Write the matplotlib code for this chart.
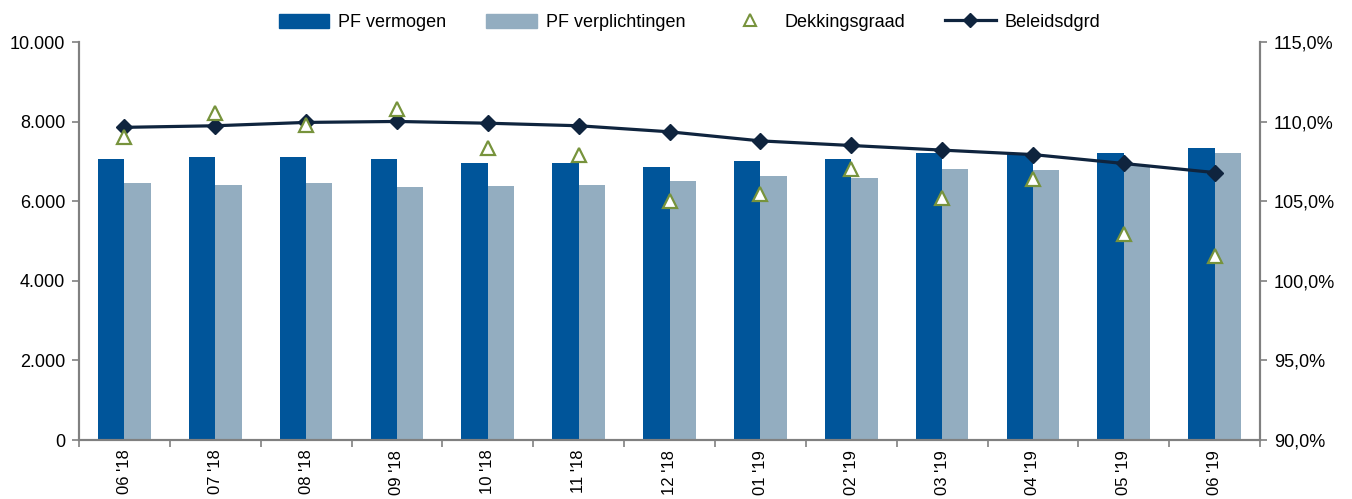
import matplotlib
matplotlib.use("Agg")
import matplotlib.pyplot as plt
import numpy as np
from matplotlib.patches import Patch
from matplotlib.lines import Line2D
from matplotlib.ticker import FuncFormatter, FixedLocator

# data
maanden = ["06 '18", "07 '18", "08 '18", "09 '18", "10 '18", "11 '18", "12 '18",
           "01 '19", "02 '19", "03 '19", "04 '19", "05 '19", "06 '19"]
pf_vermogen = [7070, 7110, 7110, 7070, 6950, 6970, 6850, 7020, 7070, 7210, 7190, 7210, 7330]
pf_verplichtingen = [6450, 6400, 6450, 6350, 6390, 6420, 6500, 6640, 6580, 6820, 6790, 6910, 7200]
dekkingsgraad = [109.05, 110.56, 109.78, 110.79, 108.37, 107.9, 105.0, 105.48, 107.03, 105.2, 106.37, 102.92, 101.56]
beleidsdgrd = [109.64, 109.74, 109.95, 110.01, 109.9, 109.74, 109.36, 108.79, 108.5, 108.21, 107.93, 107.37, 106.8]

# colours
c_verm = '#00559A'
c_verpl = '#93ADC0'
c_dekk = '#77933C'
c_bel = '#0F243E'
c_axis = '#808080'

plt.rcParams['font.family'] = ['Liberation Sans', 'DejaVu Sans']
plt.rcParams['font.size'] = 13

fig = plt.figure(figsize=(13.52, 4.99), dpi=100)
ax = fig.add_axes([0.0584, 0.1182, 0.8736, 0.7976])
ax2 = ax.twinx()

x = np.arange(len(maanden))
w = 0.29
ax.bar(x - w/2, pf_vermogen, w, color=c_verm, zorder=2)
ax.bar(x + w/2, pf_verplichtingen, w, color=c_verpl, zorder=2)

ax2.plot(x, beleidsdgrd, color=c_bel, lw=2.3, marker='D', markersize=8, zorder=3)
ax2.plot(x, dekkingsgraad, ls='none', marker='^', markersize=10, markerfacecolor='white',
         markeredgecolor=c_dekk, markeredgewidth=1.6, zorder=4)

ax.set_xlim(-0.5, len(maanden) - 0.5)
ax.set_ylim(0, 10000)
ax.set_yticks([0, 2000, 4000, 6000, 8000, 10000])
ax.yaxis.set_major_formatter(FuncFormatter(lambda v, p: f"{int(v):,}".replace(",", ".")))
ax2.set_ylim(90, 115)
ax2.set_yticks([90, 95, 100, 105, 110, 115])
ax2.yaxis.set_major_formatter(FuncFormatter(lambda v, p: f"{v:.1f}%".replace(".", ",")))

# x-as: ticks tussen de categorieen, labels in het midden
ax.set_xticks(x)
ax.set_xticklabels(maanden, rotation=90, fontsize=12)
ax.tick_params(axis='x', which='major', length=0, pad=7)
ax.xaxis.set_minor_locator(FixedLocator(np.arange(-0.5, len(maanden), 1)))
ax.tick_params(axis='x', which='minor', length=5, color=c_axis, width=1.2)
ax.tick_params(axis='y', length=5, color=c_axis, width=1.2, pad=5)
ax2.tick_params(axis='y', length=5, color=c_axis, width=1.2, pad=5)

for a in (ax, ax2):
    a.spines['top'].set_visible(False)
    for s in ('left', 'right', 'bottom'):
        a.spines[s].set_color(c_axis)
        a.spines[s].set_linewidth(1.5)

handles = [
    Patch(color=c_verm, label='PF vermogen'),
    Patch(color=c_verpl, label='PF verplichtingen'),
    Line2D([], [], ls='none', marker='^', markersize=8, markerfacecolor='white',
           markeredgecolor=c_dekk, markeredgewidth=1.5, label='Dekkingsgraad'),
    Line2D([], [], color=c_bel, lw=2.3, marker='D', markersize=7, label='Beleidsdgrd'),
]
fig.legend(handles=handles, loc='upper center', bbox_to_anchor=(0.51, 1.005), ncol=4,
           frameon=False, handlelength=2.8, handleheight=0.8, handletextpad=0.5,
           columnspacing=2.2, fontsize=13)

fig.savefig("out.png", dpi=100)
